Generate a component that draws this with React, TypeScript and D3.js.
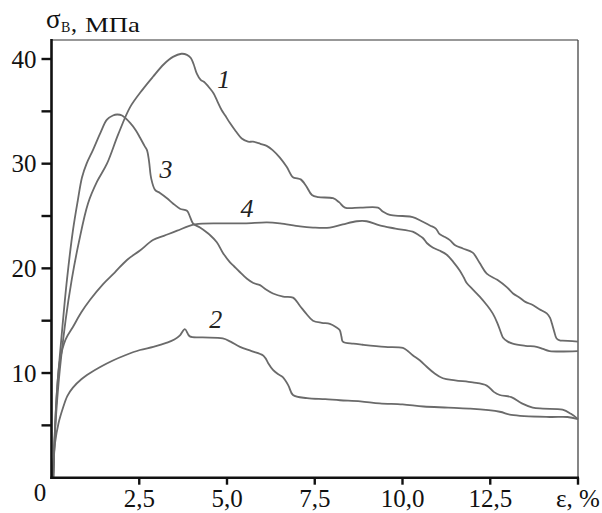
import React from "react";
import * as d3 from "d3";

type Pt = [number, number];

const curve1: Pt[] = [[0.05,0],[0.08,3],[0.2,9],[0.4,15],[0.58,19],[0.78,22.5],[1.04,26.2],[1.3,28.3],[1.58,30.0],[1.9,32.8],[2.24,35.4],[2.6,37.1],[2.89,38.3],[3.2,39.5],[3.46,40.2],[3.7,40.5],[3.86,40.4],[3.97,40.1],[4.05,39.5],[4.14,38.6],[4.25,38.0],[4.35,37.8],[4.51,37.2],[4.62,36.7],[4.72,36.0],[4.85,35.1],[4.95,34.6],[5.08,33.9],[5.25,33.1],[5.42,32.4],[5.6,32.1],[5.74,32.1],[5.95,31.9],[6.13,31.7],[6.3,31.3],[6.5,30.6],[6.7,29.7],[6.88,28.7],[7.0,28.6],[7.1,28.5],[7.25,27.9],[7.42,27.0],[7.6,26.8],[8.02,26.7],[8.2,26.3],[8.36,25.8],[8.8,25.8],[9.3,25.8],[9.45,25.4],[9.64,25.1],[10.0,25.0],[10.29,24.9],[10.55,24.5],[10.78,24.1],[10.95,23.8],[11.05,23.3],[11.15,23.1],[11.35,22.7],[11.5,22.2],[11.72,21.9],[12.0,21.5],[12.2,20.5],[12.4,19.5],[12.7,18.9],[12.97,18.2],[13.15,17.6],[13.34,17.2],[13.5,16.8],[13.71,16.5],[13.9,16.1],[14.11,15.7],[14.2,15.3],[14.25,14.8],[14.32,14.0],[14.39,13.3],[14.5,13.1],[14.56,13.1],[15.0,13.0]];

const curve2: Pt[] = [[0.05,0],[0.07,2],[0.1,3.3],[0.2,5.2],[0.33,6.7],[0.45,7.8],[0.61,8.6],[0.85,9.4],[1.1,10.0],[1.4,10.6],[1.75,11.2],[2.1,11.7],[2.52,12.2],[2.9,12.5],[3.29,12.9],[3.5,13.2],[3.66,13.6],[3.8,14.2],[3.94,13.5],[4.3,13.4],[4.88,13.3],[5.1,13.0],[5.37,12.5],[5.7,12.1],[6.02,11.7],[6.1,11.4],[6.17,10.96],[6.31,10.3],[6.45,9.9],[6.59,9.6],[6.75,8.8],[6.88,7.9],[7.28,7.6],[7.8,7.5],[8.22,7.4],[8.8,7.3],[9.35,7.1],[10.0,7.0],[10.6,6.8],[11.3,6.7],[11.9,6.6],[12.77,6.3],[13.1,6.0],[14.19,5.8],[14.7,5.8],[15.0,5.6]];

const curve3: Pt[] = [[0.05,0],[0.08,3],[0.15,8],[0.3,14],[0.44,18.9],[0.61,23.6],[0.75,26.5],[0.87,28.7],[1.0,30.0],[1.18,31.3],[1.4,33.0],[1.58,34.2],[1.75,34.6],[1.87,34.7],[2.01,34.6],[2.24,33.9],[2.4,33.2],[2.52,32.5],[2.65,31.7],[2.72,31.3],[2.78,30.2],[2.84,28.6],[2.95,27.5],[3.09,27.2],[3.29,26.7],[3.46,26.2],[3.66,25.7],[3.86,25.5],[3.95,24.9],[4.03,24.3],[4.23,23.9],[4.4,23.5],[4.51,23.2],[4.71,22.5],[4.88,21.5],[5.08,20.6],[5.2,20.2],[5.35,19.7],[5.57,19.0],[5.75,18.6],[5.94,18.4],[6.1,18.0],[6.31,17.6],[6.6,17.3],[6.88,17.2],[7.08,16.4],[7.25,15.7],[7.45,15.0],[7.7,14.8],[7.93,14.7],[8.1,14.4],[8.21,14.1],[8.26,13.5],[8.3,13.0],[8.6,12.8],[8.87,12.7],[9.5,12.5],[10.01,12.4],[10.15,12.1],[10.29,11.7],[10.5,11.2],[10.69,10.6],[10.9,10.0],[11.15,9.5],[11.5,9.3],[12.0,9.1],[12.4,8.8],[12.6,8.2],[12.77,7.9],[13.1,7.7],[13.4,7.1],[13.71,6.7],[14.0,6.6],[14.56,6.5],[14.8,6.1],[15.0,5.6]];

const curve4: Pt[] = [[0.05,0],[0.08,3],[0.15,8],[0.24,11.2],[0.4,13.2],[0.61,14.4],[0.85,15.8],[1.1,17.0],[1.47,18.5],[1.8,19.6],[2.15,20.8],[2.52,21.7],[2.89,22.7],[3.2,23.1],[3.58,23.6],[4.09,24.2],[4.89,24.3],[5.5,24.3],[6.14,24.4],[6.51,24.3],[7.08,24.0],[7.45,23.9],[7.93,23.9],[8.3,24.2],[8.7,24.5],[8.98,24.5],[9.35,24.1],[9.8,23.8],[10.29,23.5],[10.45,23.2],[10.58,22.9],[10.7,22.4],[10.86,22.0],[11.05,21.7],[11.26,21.3],[11.45,20.6],[11.63,19.8],[11.75,19.1],[11.83,18.6],[12.0,18.0],[12.2,17.3],[12.4,16.5],[12.57,15.7],[12.7,14.8],[12.8,13.9],[12.86,13.4],[13.0,13.0],[13.14,12.8],[13.5,12.6],[13.82,12.5],[14.0,12.3],[14.19,12.1],[15.0,12.1]];

const curves: Pt[][] = [curve1, curve2, curve3, curve4];
const curveLabels = ["1", "2", "3", "4"];
const curveLabelPos: Pt[] = [[4.91, 37.2], [4.68, 14.3], [3.26, 28.6], [5.57, 24.9]];

const xTicks = [2.5, 5, 7.5, 10, 12.5, 15];
const xTickLabels = ["2,5", "5,0", "7,5", "10,0", "12,5", "ε, %"];
const yTicks = [5, 10, 15, 20, 25, 30, 35, 40];
const yLabelTicks = [10, 20, 30, 40];

const W = 602, H = 513;
const FONT = "Liberation Serif, Times New Roman, Tinos, DejaVu Serif, serif";

export default function App() {
  const x = d3.scaleLinear().domain([0, 15]).range([51.5, 578]);
  const y = d3.scaleLinear().domain([0, 40]).range([477.7, 59]);
  const top = 40;
  const line = d3.line<Pt>().x(d => x(d[0])).y(d => y(d[1])).curve(d3.curveCatmullRom.alpha(0.5));
  const ts = { fontFamily: FONT };
  return (
    <svg width={W} height={H} style={{ position: "absolute", left: 0, top: 0, background: "#fff", fontFamily: FONT }}>
      <line x1={x(0)} x2={x(15)} y1={top} y2={top} stroke="#333" strokeWidth={1.2} />
      <line x1={x(15)} x2={x(15)} y1={top} y2={y(0)} stroke="#444" strokeWidth={1.3} />
      {curves.map((c, i) => (
        <path key={i} d={line(c) || ""} fill="none" stroke="#6a6a6a" strokeWidth={1.8} strokeLinejoin="round" />
      ))}
      <line x1={x(0)} x2={x(0)} y1={top - 1} y2={y(0) + 1.2} stroke="#111" strokeWidth={2.6} />
      <line x1={x(0) - 1.2} x2={x(15) + 1} y1={y(0)} y2={y(0)} stroke="#111" strokeWidth={2.6} />
      {yTicks.map(t => (
        <line key={t} x1={x(0) - 10} x2={x(0)} y1={y(t)} y2={y(t)} stroke="#111" strokeWidth={2.4} />
      ))}
      {xTicks.map(t => (
        <line key={t} x1={x(t)} x2={x(t)} y1={y(0)} y2={y(0) + 7} stroke="#111" strokeWidth={2.4} />
      ))}
      {yLabelTicks.map(t => (
        <text key={t} style={ts} x={x(0) - 15} y={y(t) + 8.5} textAnchor="end" fontSize={25} fill="#111">{t}</text>
      ))}
      <text style={ts} x={x(0) - 11.5} y={y(0) + 23} textAnchor="middle" fontSize={25} fill="#111">0</text>
      {xTicks.map((t, i) => (
        <text key={t} style={ts} x={x(t)} y={y(0) + 29} textAnchor="middle" fontSize={25} fill="#111">{xTickLabels[i]}</text>
      ))}
      <text style={ts} x={46} y={28} fontSize={27} fill="#111">σ</text>
      <text style={ts} x={61} y={31.5} fontSize={14} fill="#111">В</text>
      <text style={ts} x={71} y={31} fontSize={24} fill="#111">,</text>
      <text style={ts} x={85} y={31.5} fontSize={22} fill="#111" textLength={55} lengthAdjust="spacingAndGlyphs">МПа</text>
      {curveLabels.map((l, i) => (
        <text key={l} style={ts} x={x(curveLabelPos[i][0])} y={y(curveLabelPos[i][1])} textAnchor="middle" fontSize={26} fontStyle="italic" fill="#222">{l}</text>
      ))}
    </svg>
  );
}
